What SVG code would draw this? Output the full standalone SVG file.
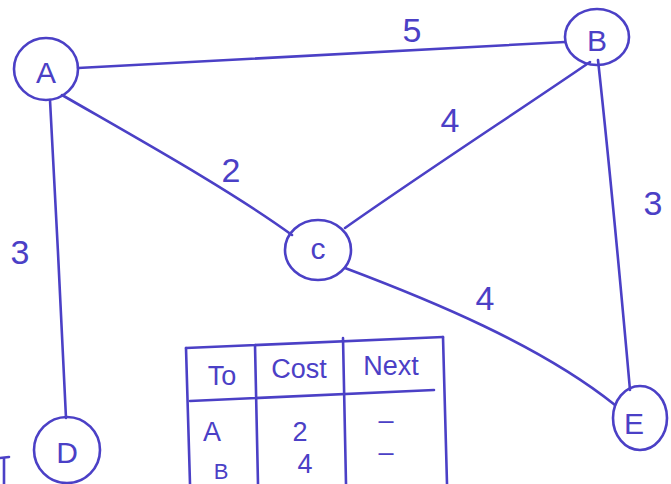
<svg xmlns="http://www.w3.org/2000/svg" width="671" height="484" viewBox="0 0 671 484">
<style>
.ink{fill:none;stroke:#4b40c6;stroke-width:2.6;stroke-linecap:round;stroke-linejoin:round}
.t{fill:#4b40c6;font-family:"Liberation Sans",Arial,sans-serif;text-anchor:middle;dominant-baseline:central}
.nl{font-size:30px}
.el{font-size:34px}
.tb{font-size:27px}
</style>
<rect width="671" height="484" fill="#ffffff"/>
<g id="edges" class="ink">
<path d="M78,68 L565,42"/>
<path d="M62,95 C140,140 230,190 292,235"/>
<path d="M50,100 C55,200 62,320 66,418"/>
<path d="M590,62 C520,110 420,175 345,228"/>
<path d="M598,60 C610,170 622,300 630,390"/>
<path d="M345,268 C430,300 540,345 615,405"/>
</g>
<g id="edge-labels">
<text class="t el" x="412" y="30">5</text>
<text class="t el" x="231" y="170">2</text>
<text class="t el" x="20" y="252">3</text>
<text class="t el" x="450" y="120">4</text>
<text class="t el" x="653" y="203">3</text>
<text class="t el" x="485" y="298">4</text>
</g>
<g id="node-A"><ellipse class="ink" cx="46" cy="69" rx="32" ry="31"/><text class="t nl" x="46" y="72">A</text></g>
<g id="node-B"><ellipse class="ink" cx="597" cy="37" rx="32" ry="28"/><text class="t nl" x="597" y="40">B</text></g>
<g id="node-C"><ellipse class="ink" cx="318" cy="250" rx="33" ry="30"/><text class="t nl" x="318" y="248">c</text></g>
<g id="node-D"><ellipse class="ink" cx="67" cy="450" rx="33" ry="33"/><text class="t nl" x="67" y="452">D</text></g>
<g id="node-E"><ellipse class="ink" cx="640" cy="418" rx="27" ry="32"/><text class="t nl" x="634" y="423">E</text></g>
<g id="fragment" class="ink"><path d="M0,458 L9,457 M4,458 L4,484"/></g>
<g id="table">
<g class="ink">
<path d="M186,348 L443,337"/>
<path d="M186,348 L190,484"/>
<path d="M443,337 L447,484"/>
<path d="M255,345 L258,484"/>
<path d="M343,338 L346,484"/>
<path d="M190,401 L434,390"/>
</g>
<text class="t tb" x="222" y="376">To</text>
<text class="t tb" x="299" y="369">Cost</text>
<text class="t tb" x="391" y="366">Next</text>
<text class="t tb" x="212" y="432">A</text>
<text class="t tb" x="300" y="432">2</text>
<text class="t tb" x="386" y="420">–</text>
<text class="t" style="font-size:22px" x="221" y="471">B</text>
<text class="t tb" x="305" y="464">4</text>
<text class="t tb" x="386" y="452">–</text>
</g>
</svg>
